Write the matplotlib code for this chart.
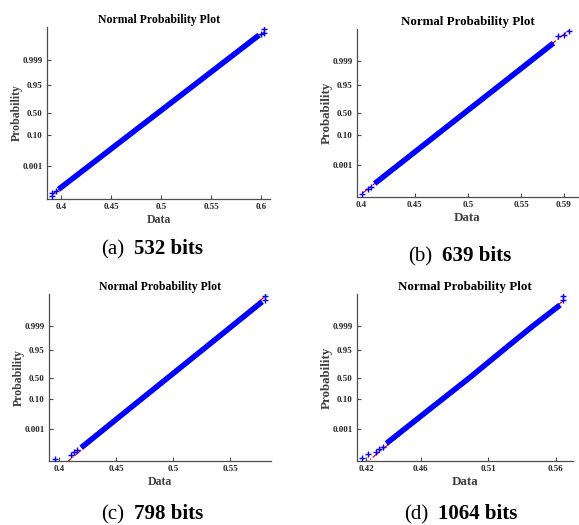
import numpy as np
import matplotlib
matplotlib.use("Agg")
import matplotlib.pyplot as plt
from statistics import NormalDist

# ---- data ----
captions = ["(a)", "(b)", "(c)", "(d)"]
bits = ["532 bits", "639 bits", "798 bits", "1064 bits"]

xticks_a = [0.4, 0.45, 0.5, 0.55, 0.6]
xticks_b = [0.4, 0.45, 0.5, 0.55, 0.59]
xticks_c = [0.4, 0.45, 0.5, 0.55]
xticks_d = [0.42, 0.46, 0.51, 0.56]
yticks = [0.001, 0.10, 0.50, 0.95, 0.999]
ytick_labels = ["0.001", "0.10", "0.50", "0.95", "0.999"]

# dense band of sample points (data value, probability)
band_a_x = [0.3976, 0.4277, 0.4680, 0.4966, 0.5333, 0.5655, 0.5976]
band_a_p = [4.5e-6, 0.001, 0.10, 0.50, 0.95, 0.999, 0.99999705]
band_b_x = [0.4122, 0.4345, 0.4708, 0.4966, 0.5297, 0.5587, 0.5802]
band_b_p = [1.33e-5, 0.001, 0.10, 0.50, 0.95, 0.999, 0.9999841]
band_c_x = [0.4194, 0.4395, 0.4723, 0.4956, 0.5255, 0.5517, 0.5780]
band_c_p = [1.33e-5, 0.001, 0.10, 0.50, 0.95, 0.999, 0.9999972]
band_d_x = [0.4347, 0.4481, 0.4764, 0.4965, 0.5212, 0.5432, 0.5632]
band_d_p = [3.9e-5, 0.001, 0.10, 0.50, 0.95, 0.999, 0.9999929]

# separate points in the tails
tail_a_x = [0.3913, 0.3913, 0.3950, 0.6000, 0.6028, 0.6028]
tail_a_p = [6.8e-7, 1.83e-6, 3.0e-6, 0.9999978, 0.9999985, 0.99999947]
tail_b_x = [0.4006, 0.4059, 0.4090, 0.5849, 0.5901, 0.5950]
tail_b_p = [6.5e-7, 2.8e-6, 5.4e-6, 0.9999974, 0.9999984, 0.99999941]
tail_c_x = [0.3962, 0.4109, 0.4129, 0.4153, 0.5804, 0.5804]
tail_c_p = [5.9e-7, 1.74e-6, 4.5e-6, 7.1e-6, 0.99999826, 0.99999947]
tail_d_x = [0.4170, 0.4212, 0.4269, 0.4295, 0.4320, 0.5656, 0.5656]
tail_d_p = [6.5e-7, 2.1e-6, 3.7e-6, 8.5e-6, 1.6e-5, 0.99999826, 0.99999947]

# reference (fit) line end points
ref_a_x = [0.3913, 0.6028]
ref_a_p = [1.1e-6, 0.9999988]
ref_b_x = [0.4006, 0.5950]
ref_b_p = [8.8e-7, 0.99999957]
ref_c_x = [0.3962, 0.5804]
ref_c_p = [6.7e-9, 0.99999938]
ref_d_x = [0.4170, 0.5656]
ref_d_p = [6.1e-8, 0.9999979]

xlims = [(0.3861, 0.6085), (0.3956, 0.6033), (0.3912, 0.5857), (0.4130, 0.5728)]

nd = NormalDist()
def fwd(p):
    p = np.clip(np.asarray(p, dtype=float), 1e-15, 1 - 1e-15)
    return np.vectorize(nd.inv_cdf, otypes=[float])(p)
def inv(z):
    return np.vectorize(nd.cdf, otypes=[float])(np.asarray(z, dtype=float))

W, H = 579, 525
fig = plt.figure(figsize=(W / 100, H / 100), dpi=100)
plt.rcParams['font.family'] = ['Liberation Serif', 'DejaVu Serif']

# axes boxes in pixels: left, top, right, bottom
boxes = [(47, 27, 270, 199), (357, 29, 578, 197), (49, 294, 271, 461), (357, 294, 573, 461)]
scale = [1.0, 1.1, 1.0, 1.1]
panels = [
    (band_a_x, band_a_p, tail_a_x, tail_a_p, ref_a_x, ref_a_p, xticks_a),
    (band_b_x, band_b_p, tail_b_x, tail_b_p, ref_b_x, ref_b_p, xticks_b),
    (band_c_x, band_c_p, tail_c_x, tail_c_p, ref_c_x, ref_c_p, xticks_c),
    (band_d_x, band_d_p, tail_d_x, tail_d_p, ref_d_x, ref_d_p, xticks_d),
]

for i in range(4):
    l, t, r, b = boxes[i]
    ax = fig.add_axes([l / W, (H - b) / H, (r - l) / W, (b - t) / H])
    ax.set_yscale('function', functions=(fwd, inv))
    bx, bp, tx, tp, rx, rp, xt = panels[i]
    ax.plot(rx, rp, color='red', ls='-.', lw=0.9, zorder=2)
    ax.plot(bx, bp, color='blue', lw=4.0, solid_capstyle='butt', zorder=3)
    ax.plot(tx, tp, ls='none', marker='+', color='blue', ms=5, mew=1.0, zorder=4)
    ax.set_xlim(xlims[i])
    ax.set_ylim(inv(-5), inv(5))
    ax.set_xticks(xt)
    ax.set_xticklabels([str(v) for v in xt])
    ax.set_yticks(yticks)
    ax.set_yticklabels(ytick_labels)
    ax.minorticks_off()
    ax.tick_params(direction='in', length=3, width=0.8, color='0.3', labelsize=6.5, pad=3)
    for lab in ax.get_xticklabels() + ax.get_yticklabels():
        lab.set_fontweight('bold')
        lab.set_color('0.15')
    for s in ['top', 'right']:
        ax.spines[s].set_visible(False)
    for s in ['left', 'bottom']:
        ax.spines[s].set_linewidth(0.9)
        ax.spines[s].set_color('0.3')
    fs = 8.5 * scale[i]
    ax.set_title("Normal Probability Plot", fontsize=fs, fontweight='bold', pad=3)
    ax.set_xlabel("Data", fontsize=fs, fontweight='bold', labelpad=2, color='0.25')
    ax.set_ylabel("Probability", fontsize=fs, fontweight='bold', labelpad=0, color='0.25')

# captions under each panel
cap_pos = [(124, 134, 254), (432, 442, 261), (124, 134, 519), (428, 438, 519)]
for i in range(4):
    xr, xl, yb = cap_pos[i]
    fig.text(xr / W, (H - yb) / H, captions[i], ha='right', va='baseline', fontsize=15)
    fig.text(xl / W, (H - yb) / H, bits[i], ha='left', va='baseline', fontsize=15, fontweight='bold')

fig.savefig("out.png", dpi=100)
